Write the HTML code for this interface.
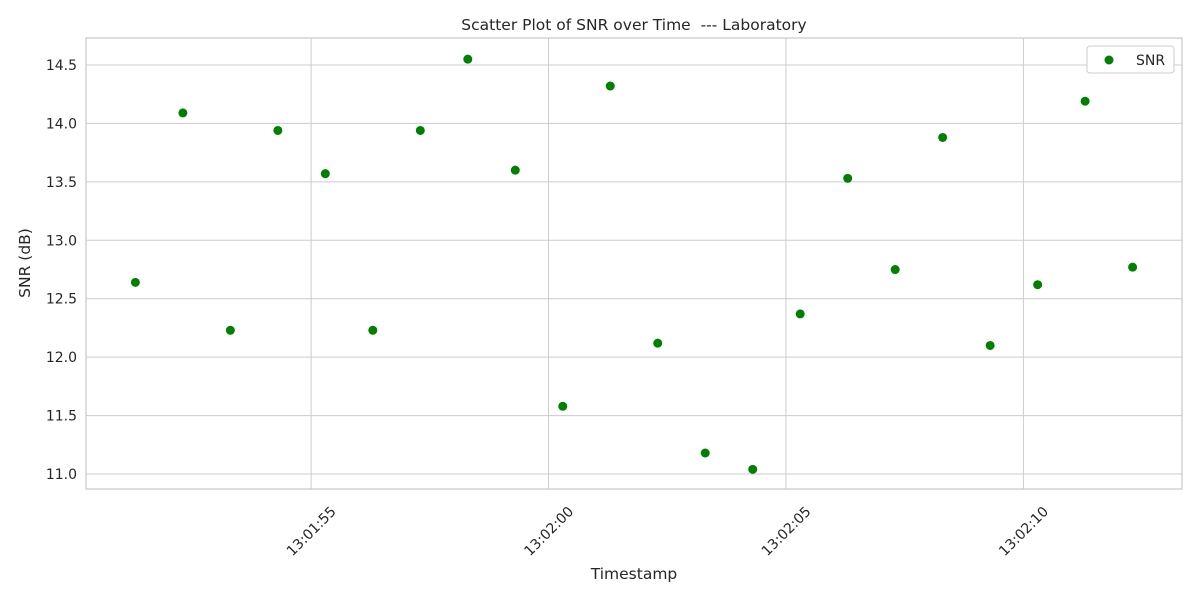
<!DOCTYPE html>
<html><head><meta charset="utf-8"><style>
body{margin:0;background:#fff;font-family:"Liberation Sans","DejaVu Sans",sans-serif;}
svg text{font-family:"DejaVu Sans","Liberation Sans",sans-serif;fill:#262626;}
</style></head><body>
<svg id="chart" width="1200" height="600">
<g id="grid"></g><g id="pts"></g><g id="axes"></g>
</svg>
<script>
const timesSec=[51.3,52.3,53.3,54.3,55.3,56.3,57.3,58.3,59.3,60.3,61.3,62.3,63.3,64.3,65.3,66.3,67.3,68.3,69.3,70.3,71.3,72.3];
const snrValues=[12.64,14.09,12.23,13.94,13.57,12.23,13.94,14.55,13.60,11.58,14.32,12.12,11.18,11.04,12.37,13.53,12.75,13.88,12.10,12.62,14.19,12.77];
const xTicks=[55,60,65,70];
const xTickLabels=["13:01:55","13:02:00","13:02:05","13:02:10"];
const yTicks=[11.0,11.5,12.0,12.5,13.0,13.5,14.0,14.5];
const NS="http://www.w3.org/2000/svg";
const L=86,R=1182,T=38,B=489;
const x0=50.26,x1=73.34,y0=10.872,y1=14.731;
const sx=v=>L+(v-x0)/(x1-x0)*(R-L);
const sy=v=>B-(v-y0)/(y1-y0)*(B-T);
function mk(tag,attrs,parent){const e=document.createElementNS(NS,tag);for(const k in attrs)e.setAttribute(k,attrs[k]);parent.appendChild(e);return e;}
const grid=document.getElementById('grid'),pts=document.getElementById('pts'),axes=document.getElementById('axes');
yTicks.forEach(v=>{const y=sy(v);
 const l=mk('line',{x1:L,x2:R,y1:y,y2:y,stroke:'#cccccc','stroke-width':1},grid);
 
 
 const t=mk('text',{x:L-9,y:y+5,'text-anchor':'end','font-size':14},axes);t.textContent=v.toFixed(1);
 
 
});
xTicks.forEach((v,i)=>{const x=sx(v);
 const l=mk('line',{x1:x,x2:x,y1:T,y2:B,stroke:'#cccccc','stroke-width':1},grid);
 
 
 const t=mk('text',{x:x,y:536,'text-anchor':'middle','font-size':14,transform:`rotate(-45 ${x} 531)`},axes);t.textContent=xTickLabels[i];
 
 
});
const frame=mk('rect',{x:L,y:T,width:R-L,height:B-T,fill:'none',stroke:'#cccccc','stroke-width':1.3},axes);


timesSec.forEach((t,i)=>{
 const c=mk('circle',{cx:sx(t),cy:sy(snrValues[i]),r:4.5,fill:'#008000'},pts);
 
 
});
let e;
e=mk('text',{x:634,y:30,'text-anchor':'middle','font-size':15.5,style:'white-space:pre'},axes);e.textContent='Scatter Plot of SNR over Time  --- Laboratory';


e=mk('text',{x:634,y:579,'text-anchor':'middle','font-size':15.5},axes);e.textContent='Timestamp';


e=mk('text',{x:30,y:263,'text-anchor':'middle','font-size':15.5,transform:'rotate(-90 30 263)'},axes);e.textContent='SNR (dB)';


const lg=mk('g',{},axes);


mk('rect',{x:1087,y:46,width:87,height:27,rx:3,fill:'#fff',stroke:'#cccccc'},lg);
e=mk('circle',{cx:1109,cy:60,r:4.5,fill:'#008000'},lg);


e=mk('text',{x:1136,y:65,'font-size':14},lg);e.textContent='SNR';


</script>
</body></html>
